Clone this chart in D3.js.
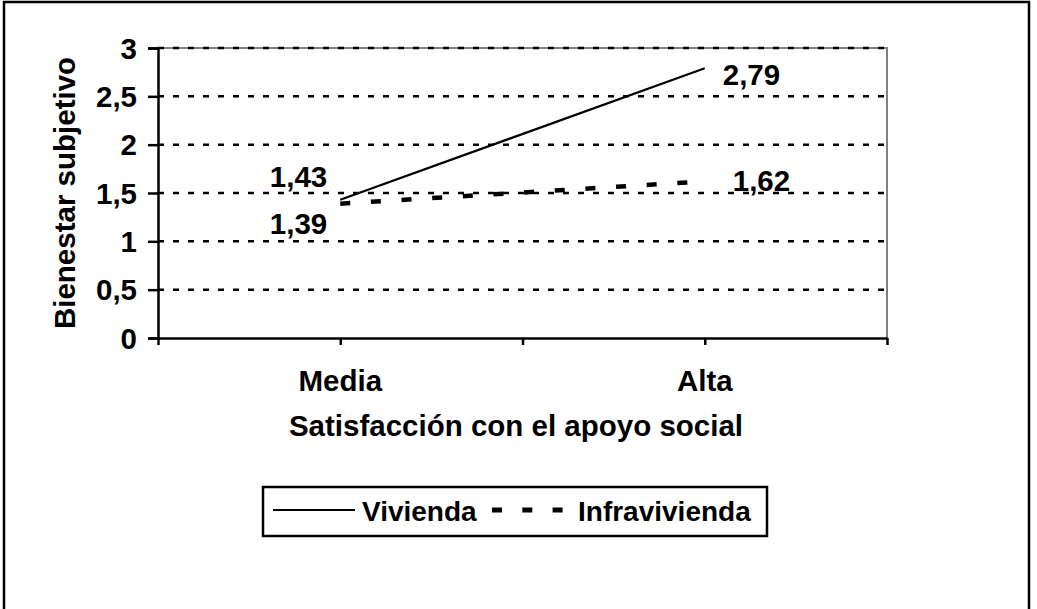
<!DOCTYPE html>
<html>
<head>
<meta charset="utf-8">
<script src="https://cdn.jsdelivr.net/npm/d3@7"></script>
<style>
    body { margin: 0; background: #fff; }
    svg text { font-family: "Liberation Sans", Arial, Helvetica, sans-serif; font-weight: bold; fill: #000; }
</style>
</head>
<body>
<svg id="canvas" width="1037" height="609"></svg>
<script>
    // chart data
    let categories = ['Media', 'Alta'];
    let vivienda = [1.43, 2.79];
    let infravivienda = [1.39, 1.62];
    let yTicks = [0, 0.5, 1, 1.5, 2, 2.5, 3];
    let seriesNames = ['Vivienda', 'Infravivienda'];

    let width = 1037;
    let height = 609;
    let plot = {left: 158, right: 887, top: 48, bottom: 338};
    let fontSize = '29.5px';

    let svg = d3.select('#canvas');

    // outer frame of the chart area (bottom edge runs past the picture)
    svg.append('rect')
        .attr('x', 4)
        .attr('y', 2)
        .attr('width', 1025)
        .attr('height', 640)
        .attr('fill', 'none')
        .attr('stroke', '#000')
        .attr('stroke-width', 2.5);

    // scales - categories sit on tick marks, one empty band each side
    let xScale = d3.scalePoint()
        .domain(categories)
        .range([plot.left, plot.right])
        .padding(0.5);
    let xTickScale = d3.scaleLinear()
        .domain([0, categories.length * 2])
        .range([plot.left, plot.right]);
    let yScale = d3.scaleLinear()
        .domain([0, 3])
        .range([plot.bottom, plot.top]);

    // grey top / right edge of plot area
    svg.append('path')
        .attr('d', 'M' + plot.left + ',' + plot.top + 'H' + plot.right + 'V' + plot.bottom)
        .attr('fill', 'none')
        .attr('stroke', '#808080')
        .attr('stroke-width', 2);

    // dotted gridlines
    svg.append('g')
        .selectAll('line')
        .data(yTicks.filter(d => d > 0))
        .enter()
        .append('line')
        .attr('x1', plot.left)
        .attr('x2', plot.right)
        .attr('y1', d => yScale(d))
        .attr('y2', d => yScale(d))
        .attr('stroke', '#000')
        .attr('stroke-width', 2.5)
        .attr('stroke-dasharray', '6,9');

    // y axis
    let yAxis = d3.axisLeft(yScale)
        .tickValues(yTicks)
        .tickSize(10)
        .tickPadding(11)
        .tickFormat(d => String(d).replace('.', ','));
    let yG = svg.append('g')
        .attr('transform', 'translate(' + plot.left + ',0)')
        .call(yAxis);
    yG.select('.domain').attr('stroke', '#000').attr('stroke-width', 2.5);
    yG.selectAll('.tick line').attr('stroke', '#000').attr('stroke-width', 2.5);
    yG.selectAll('.tick text')
        .style('font-size', fontSize)
        .attr('dy', '0.35em');

    // x axis - ticks between and on categories, labels drawn separately
    let xAxis = d3.axisBottom(xTickScale)
        .ticks(categories.length * 2)
        .tickSize(7)
        .tickSizeOuter(0)
        .tickFormat('');
    let xG = svg.append('g')
        .attr('transform', 'translate(0,' + plot.bottom + ')')
        .call(xAxis);
    xG.select('.domain').attr('stroke', '#000').attr('stroke-width', 2.5);
    xG.selectAll('.tick line').attr('stroke', '#000').attr('stroke-width', 2.5);

    svg.append('g')
        .selectAll('text')
        .data(categories)
        .enter()
        .append('text')
        .attr('x', d => xScale(d))
        .attr('y', 391)
        .attr('text-anchor', 'middle')
        .style('font-size', fontSize)
        .text(d => d);

    // axis titles
    svg.append('text')
        .attr('x', 516)
        .attr('y', 436)
        .attr('text-anchor', 'middle')
        .style('font-size', fontSize)
        .text('Satisfacción con el apoyo social');

    svg.append('text')
        .attr('transform', 'translate(75,' + ((plot.top + plot.bottom) / 2) + ') rotate(-90)')
        .attr('text-anchor', 'middle')
        .style('font-size', fontSize)
        .text('Bienestar subjetivo');

    // series lines
    let lineGen = d3.line()
        .x((d, i) => xScale(categories[i]))
        .y(d => yScale(d));

    svg.append('path')
        .datum(vivienda)
        .attr('d', lineGen)
        .attr('fill', 'none')
        .attr('stroke', '#000')
        .attr('stroke-width', 2.2);

    svg.append('path')
        .datum(infravivienda)
        .attr('d', lineGen)
        .attr('fill', 'none')
        .attr('stroke', '#000')
        .attr('stroke-width', 4.5)
        .attr('stroke-dasharray', '10,20.7');

    // data labels - offsets from each point as placed in the original
    let labelOffsets = {
        vivienda: [[-13, -13, 'end'], [18, 17, 'start']],
        infravivienda: [[-13, 30, 'end'], [28, 10, 'start']]
    };
    function drawLabels(values, offsets) {
        svg.append('g')
            .selectAll('text')
            .data(values)
            .enter()
            .append('text')
            .attr('x', (d, i) => xScale(categories[i]) + offsets[i][0])
            .attr('y', (d, i) => yScale(d) + offsets[i][1])
            .attr('text-anchor', (d, i) => offsets[i][2])
            .style('font-size', fontSize)
            .text(d => d.toFixed(2).replace('.', ','));
    }
    drawLabels(vivienda, labelOffsets.vivienda);
    drawLabels(infravivienda, labelOffsets.infravivienda);

    // legend
    let legend = svg.append('g');
    legend.append('rect')
        .attr('x', 263)
        .attr('y', 487)
        .attr('width', 504)
        .attr('height', 49)
        .attr('fill', '#fff')
        .attr('stroke', '#000')
        .attr('stroke-width', 2.5);

    let legendItems = [
        {name: seriesNames[0], x1: 273, x2: 355, tx: 362, width: 2.2, dash: null},
        {name: seriesNames[1], x1: 492, x2: 563, tx: 578, width: 5, dash: '10,20.3'}
    ];
    legendItems.forEach(function(item) {
        legend.append('line')
            .attr('x1', item.x1)
            .attr('x2', item.x2)
            .attr('y1', 510)
            .attr('y2', 510)
            .attr('stroke', '#000')
            .attr('stroke-width', item.width)
            .attr('stroke-dasharray', item.dash);
        legend.append('text')
            .attr('x', item.tx)
            .attr('y', 521)
            .style('font-size', '28px')
            .text(item.name);
    });
</script>
</body>
</html>
